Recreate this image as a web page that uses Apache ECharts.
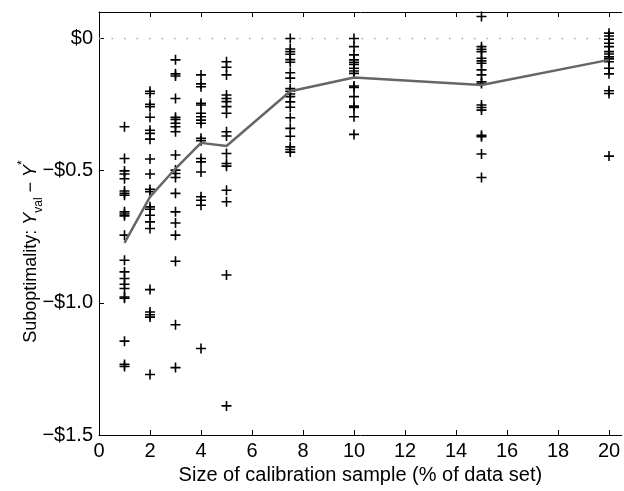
<!DOCTYPE html>
<html>
<head>
<meta charset="utf-8">
<script src="https://cdn.jsdelivr.net/npm/echarts@6/dist/echarts.min.js"></script>
<style>
html,body{margin:0;padding:0;background:#fff;}
#chart{width:624px;height:491px;}
</style>
</head>
<body>
<div id="chart"></div>
<script>
// Sample sizes (% of data set)
var sampleSizes = [1, 2, 3, 4, 5, 7.5, 10, 15, 20];

// Suboptimality values per sample size
var size1 = [-0.334, -0.454, -0.501, -0.513, -0.531, -0.577, -0.586, -0.593, -0.656, -0.664, -0.671, -0.744, -0.839, -0.883, -0.908, -0.930, -0.946, -0.978, -0.983, -1.145, -1.233, -1.241];
var size2 = [-0.200, -0.208, -0.249, -0.258, -0.298, -0.347, -0.359, -0.381, -0.456, -0.513, -0.571, -0.580, -0.637, -0.646, -0.669, -0.694, -0.719, -0.950, -1.035, -1.045, -1.054, -1.271];
var size3 = [-0.081, -0.134, -0.142, -0.227, -0.298, -0.306, -0.321, -0.334, -0.353, -0.441, -0.498, -0.511, -0.526, -0.586, -0.656, -0.698, -0.744, -0.843, -1.083, -1.245];
var size4 = [-0.138, -0.172, -0.183, -0.245, -0.252, -0.283, -0.296, -0.309, -0.321, -0.378, -0.387, -0.454, -0.467, -0.505, -0.599, -0.612, -0.631, -1.173];
var size5 = [-0.088, -0.109, -0.138, -0.214, -0.227, -0.239, -0.258, -0.283, -0.353, -0.369, -0.435, -0.473, -0.483, -0.574, -0.618, -0.895, -1.390];
var size7_5 = [0.00, -0.04, -0.05, -0.06, -0.08, -0.09, -0.13, -0.15, -0.19, -0.20, -0.21, -0.22, -0.24, -0.26, -0.30, -0.34, -0.37, -0.41, -0.42, -0.43];
var size10 = [0.00, -0.031, -0.062, -0.081, -0.090, -0.098, -0.113, -0.123, -0.132, -0.180, -0.185, -0.220, -0.256, -0.261, -0.296, -0.363];
var size15 = [0.083, -0.031, -0.041, -0.050, -0.075, -0.085, -0.094, -0.119, -0.138, -0.164, -0.170, -0.252, -0.261, -0.271, -0.366, -0.372, -0.437, -0.526];
var size20 = [0.020, 0.009, -0.003, -0.018, -0.031, -0.050, -0.059, -0.069, -0.075, -0.078, -0.088, -0.113, -0.134, -0.198, -0.208, -0.445];

// Mean suboptimality line
var meanValues = [-0.773, -0.599, -0.492, -0.395, -0.407, -0.200, -0.148, -0.176, -0.081];

// Zero reference line
var zeroLineX = [0, 20.5];
var zeroLineY = [0, 0];

// Tick values
var xTicks = [0, 2, 4, 6, 8, 10, 12, 14, 16, 18, 20];
var yTicks = [0, -0.5, -1.0, -1.5];

var columns = [size1, size2, size3, size4, size5, size7_5, size10, size15, size20];
var scatterData = [];
columns.forEach(function (col, i) {
  col.forEach(function (v) { scatterData.push([sampleSizes[i], v]); });
});
var meanData = sampleSizes.map(function (x, i) { return [x, meanValues[i]]; });
var zeroData = zeroLineX.map(function (x, i) { return [x, zeroLineY[i]]; });

var FONT = '"Liberation Sans", Arial, Helvetica, sans-serif';
var plusPath = 'path://M4.2,0h1.6v4.2h4.2v1.6h-4.2v4.2h-1.6v-4.2h-4.2v-1.6h4.2z';

var chart = echarts.init(document.getElementById('chart'), null, {renderer: 'canvas'});
chart.setOption({
  animation: false,
  backgroundColor: '#fff',
  grid: {left: 99, right: 2.25, top: 12, bottom: 56, containLabel: false, outerBoundsMode: 'none'},
  xAxis: [{
    type: 'value', min: 0, max: 20.5, interval: 2,
    position: 'bottom',
    name: 'Size of calibration sample (% of data set)',
    nameLocation: 'middle', nameGap: 30, nameMoveOverlap: false,
    nameTextStyle: {fontFamily: FONT, fontSize: 20, color: '#000'},
    axisLine: {show: true, onZero: false, lineStyle: {color: '#000', width: 1}},
    axisTick: {show: true, inside: true, length: 5, lineStyle: {color: '#000'}, customValues: xTicks},
    axisLabel: {fontFamily: FONT, fontSize: 20, color: '#000', margin: 6, customValues: xTicks},
    splitLine: {show: false}
  }, {
    type: 'value', min: 0, max: 20.5, interval: 2,
    position: 'top',
    axisLine: {show: true, onZero: false, lineStyle: {color: '#000', width: 1}},
    axisTick: {show: true, inside: true, length: 5, lineStyle: {color: '#000'}, customValues: xTicks},
    axisLabel: {show: false},
    splitLine: {show: false}
  }],
  yAxis: {
    type: 'value', min: -1.5, max: 0.1, interval: 0.5,
    name: '{n|Suboptimality: }{i|Y}{sub|val}{n| \u2212 }{i|Y}{sup|*}',
    nameLocation: 'middle', nameGap: 54, nameRotate: 90, nameMoveOverlap: false,
    nameTextStyle: {
      fontFamily: FONT, fontSize: 18, color: '#000',
      padding: [0, 56, 0, 0],
      rich: {
        n: {fontFamily: FONT, fontSize: 18, color: '#000', lineHeight: 28, verticalAlign: 'middle'},
        i: {fontFamily: FONT, fontSize: 18, color: '#000', fontStyle: 'italic', lineHeight: 28, verticalAlign: 'middle'},
        sub: {fontFamily: FONT, fontSize: 12, color: '#000', verticalAlign: 'bottom', lineHeight: 28},
        sup: {fontFamily: FONT, fontSize: 12, color: '#000', verticalAlign: 'top', lineHeight: 28}
      }
    },
    axisLine: {show: true, onZero: false, lineStyle: {color: '#000', width: 1}},
    axisTick: {show: true, inside: true, length: 5, lineStyle: {color: '#000'}, customValues: yTicks},
    axisLabel: {
      fontFamily: FONT, fontSize: 20, color: '#000', margin: 6, customValues: yTicks,
      formatter: function (v) { return Math.abs(v) < 1e-9 ? '$0' : '\u2212$' + Math.abs(v).toFixed(1); }
    },
    splitLine: {show: false}
  },
  series: [{
    type: 'line',
    data: zeroData,
    showSymbol: false,
    symbol: 'none',
    silent: true,
    lineStyle: {color: '#aaa', width: 1.6, type: [1.6, 10.9]},
    z: 1
  }, {
    type: 'scatter',
    data: scatterData,
    symbol: plusPath,
    symbolSize: 10,
    itemStyle: {color: '#000', opacity: 1},
    z: 3
  }, {
    type: 'line',
    data: meanData,
    showSymbol: false,
    symbol: 'none',
    lineStyle: {color: '#666', width: 2.5},
    z: 4
  }]
});
</script>
</body>
</html>
